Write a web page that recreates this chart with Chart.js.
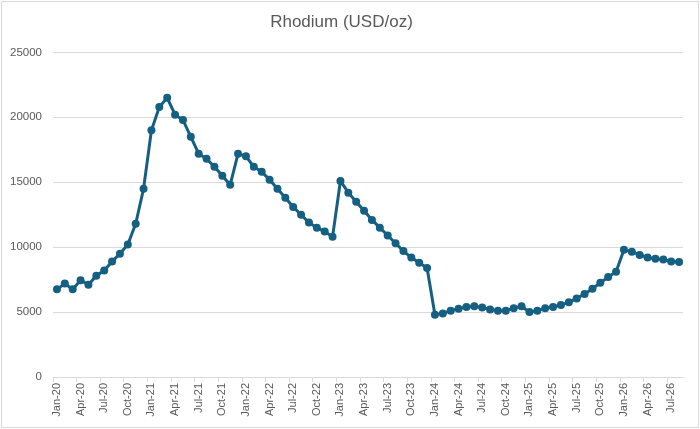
<!DOCTYPE html>
<html>
<head>
<meta charset="utf-8">
<script src="https://cdn.jsdelivr.net/npm/chart.js@4.4.1/dist/chart.umd.min.js"></script>
<style>
  html, body { margin: 0; padding: 0; background: #ffffff; }
  #wrap { width: 700px; height: 429px; position: relative; }
</style>
</head>
<body>
<div id="wrap"><canvas id="c" width="700" height="429"></canvas></div>
<script>
const chartTitle = 'Rhodium (USD/oz)';

const months = [
  'Jan-20','Feb-20','Mar-20','Apr-20','May-20','Jun-20','Jul-20','Aug-20','Sep-20','Oct-20','Nov-20','Dec-20',
  'Jan-21','Feb-21','Mar-21','Apr-21','May-21','Jun-21','Jul-21','Aug-21','Sep-21','Oct-21','Nov-21','Dec-21',
  'Jan-22','Feb-22','Mar-22','Apr-22','May-22','Jun-22','Jul-22','Aug-22','Sep-22','Oct-22','Nov-22','Dec-22',
  'Jan-23','Feb-23','Mar-23','Apr-23','May-23','Jun-23','Jul-23','Aug-23','Sep-23','Oct-23','Nov-23','Dec-23',
  'Jan-24','Feb-24','Mar-24','Apr-24','May-24','Jun-24','Jul-24','Aug-24','Sep-24','Oct-24','Nov-24','Dec-24',
  'Jan-25','Feb-25','Mar-25','Apr-25','May-25','Jun-25','Jul-25','Aug-25','Sep-25','Oct-25','Nov-25','Dec-25',
  'Jan-26','Feb-26','Mar-26','Apr-26','May-26','Jun-26','Jul-26','Aug-26'
];

const rhodium = [
  6750, 7200, 6750, 7450, 7100, 7800, 8200, 8900, 9500, 10200, 11800, 14500,
  19000, 20800, 21500, 20200, 19800, 18500, 17200, 16800, 16200, 15500, 14800, 17200,
  17000, 16200, 15800, 15200, 14500, 13800, 13100, 12500, 11900, 11500, 11200, 10800,
  15100, 14200, 13500, 12800, 12100, 11500, 10900, 10300, 9700, 9200, 8800, 8400,
  4800, 4900, 5100, 5250, 5400, 5450, 5350, 5200, 5100, 5100, 5300, 5450,
  5000, 5100, 5300, 5400, 5550, 5750, 6050, 6400, 6800, 7250, 7700, 8100,
  9800, 9650, 9400, 9200, 9100, 9050, 8900, 8850
];

const yTicks = [0, 5000, 10000, 15000, 20000, 25000];
const labelEvery = 3;

const lineColor = '#156082';
const gridColor = '#d9d9d9';
const textColor = '#595959';
const fontFamily = "'Liberation Sans', Arial, sans-serif";

const borderPlugin = {
  id: 'chartBorder',
  afterDraw(chart) {
    const ctx = chart.ctx;
    ctx.save();
    ctx.strokeStyle = gridColor;
    ctx.lineWidth = 1;
    ctx.strokeRect(1.5, 1.5, chart.width - 3, chart.height - 3);
    ctx.restore();
  }
};

new Chart(document.getElementById('c'), {
  type: 'line',
  data: {
    labels: months,
    datasets: [{
      label: chartTitle,
      data: rhodium,
      borderColor: lineColor,
      backgroundColor: lineColor,
      borderWidth: 3,
      pointRadius: 4,
      pointBackgroundColor: lineColor,
      pointBorderColor: lineColor,
      pointBorderWidth: 0,
      tension: 0,
      fill: false
    }]
  },
  options: {
    responsive: false,
    animation: false,
    devicePixelRatio: 1,
    layout: { padding: { left: 0, right: 17, top: 0, bottom: 0 } },
    plugins: {
      legend: { display: false },
      tooltip: { enabled: false },
      title: {
        display: true,
        text: chartTitle,
        color: textColor,
        font: { family: fontFamily, size: 17, weight: 'normal' },
        padding: { top: 12, bottom: 20 }
      }
    },
    scales: {
      x: {
        type: 'category',
        offset: true,
        grid: {
          offset: true,
          drawOnChartArea: false,
          drawTicks: true,
          tickLength: 5,
          color: (ctx) => (ctx.index % labelEvery === 0 ? gridColor : 'rgba(0,0,0,0)')
        },
        border: { display: true, color: gridColor, width: 1 },
        ticks: {
          autoSkip: false,
          minRotation: 90,
          maxRotation: 90,
          padding: 1,
          color: textColor,
          font: { family: fontFamily, size: 11 },
          callback: function (value, index) {
            return index % labelEvery === 0 ? months[index] : '';
          }
        },
        afterFit: (scale) => { scale.height = 52; }
      },
      y: {
        min: yTicks[0],
        max: yTicks[yTicks.length - 1],
        afterBuildTicks: (scale) => { scale.ticks = yTicks.map(v => ({ value: v })); },
        grid: { color: gridColor, drawTicks: false, lineWidth: 1 },
        border: { display: false },
        ticks: {
          padding: 11,
          color: textColor,
          font: { family: fontFamily, size: 11.5 },
          callback: (value) => String(value)
        },
        afterFit: (scale) => { scale.width = 53; }
      }
    }
  },
  plugins: [borderPlugin]
});
</script>
</body>
</html>
